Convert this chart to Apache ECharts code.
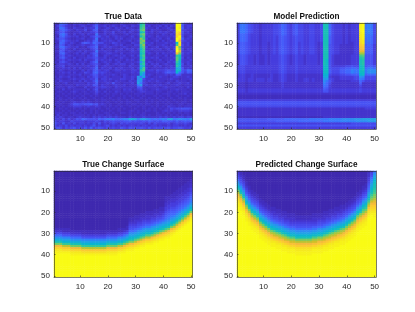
<!DOCTYPE html>
<html><head><meta charset="utf-8">
<style>html,body{margin:0;padding:0;background:#fff}#c{width:415px;height:312px;filter:blur(0.45px)}</style>
<script src="https://cdn.jsdelivr.net/npm/echarts@6/dist/echarts.min.js"></script>
</head><body><div id="c"></div>
<script>
const categories = Array.from({length:50},(_,i)=>String(i+1));
const tickLabels = ['10','20','30','40','50'];
const titles = ['True Data','Model Prediction','True Change Surface','Predicted Change Surface'];
// each char = a colour level 0..z (base 36); rows top to bottom
const trueDataRows = [
'3287632434 3243463233 2332432332 4hj4332324 3324zz7433',
'2476432323 4323573342 3432343243 3ik3423342 4243zy6344',
'3398532433 2434483234 3243324332 3jl4332423 3432zx7343',
'2378643243 3523672343 2334232343 4km3243332 2343yz5433',
'3467432334 2334462243 3523342432 3gi4342343 4324xv6342',
'2389632423 4243393342 3432234233 4km4332324 3243wt5333',
'3278543342 3324575334 2343332342 3hk3432433 3334vz5234',
'3466432233 4233492433 3243423333 3nj4233342 3423zw7343',
'2378543342 2343682343 4324233423 4ln3323424 2343zs5433',
'3287434323 6764875533 3543332243 3mk4342333 4334gx4342',
'2376343233 4334573343 2343423324 4jn3432334 3243kv5342',
'3388543342 3245682343 4332343233 3il4233423 4334xm4333',
'2267432423 3324572423 3233424342 4gk3343342 3424zo5243',
'3376343234 2433493343 3243332343 3hj4323333 2343zr4334',
'2278432342 4324672334 4332423333 3gi3432424 3334sm5343',
'2356343233 3243582243 2343342342 4hk3323332 4243jh4333',
'3267432423 3344563342 3323433233 3ej4343423 3334lh5243',
'2345343334 2433473433 4243324342 3hk3323342 3343lg4334',
'3256432323 3324682343 3234233333 4ci3432333 2434je4343',
'2344343242 4234563234 2343442342 3gj4243423 4333hf5243',
'3345233333 3343472343 3323332433 3dh3324342 3343ie4334',
'2334342424 2334582433 4243433342 4fk4233333 4344ed6343',
'3243233332 4243674344 2344343344 3ik3443544 5655gf6587',
'2334342423 3543784543 3233333343 4gd3333434 6766f96476',
'2233233334 2334663433 3432343233 3fb3432333 4343763333',
'3243342323 3243563343 2333243343 c9e4323343 3234433343',
'2332233433 4334472443 4333443342 be53343333 3343323334',
'3243332324 2433583343 3243332433 cb43433433 2332433323',
'2323422333 3243472334 3633233342 d943232332 3423343342',
'3232333243 3343662433 2343342333 9c34334343 3233432333',
'2333243322 2423353443 3243333332 6632333323 4333233242',
'3224232333 3242462323 2333243423 4533233433 3233433323',
'2332323432 3323353242 3243233332 3443332332 2332323332',
'3223232323 2332342323 2332323223 3323332323 3323233423',
'2322322232 3223232232 2322232322 3232223232 2322322232',
'3232232323 2322322322 3223232232 2322322323 2232232322',
'2232323222 3232232332 2323223223 3223232232 3223222323',
'2323223433 4343232323 2232323322 3223232323 2322323322',
'3232234665 5667563432 3223223233 2323322322 3232233233',
'2323233444 3343343232 3232322322 3232232323 2433232333',
'2232322323 2323323223 2323232223 2232323232 3354556665',
'3223232232 3223232322 3223222332 3223323223 4343344443',
'3332323323 2323232233 2322332322 3232222323 2323232332',
'2423322333 3232323323 3232222323 2332322332 3232323232',
'4343233234 3332434343 4343332433 3343333343 4334344344',
'4435353465 8766658789 9a889aadec 9cdba8989a 9cd9abaa9c',
'5344335444 4344454354 5655566756 5565765657 7665756767',
'6436343534 4343536343 4543545444 4543535444 4534544543',
'5343534344 3434634345 3434343443 4344344343 3434433434',
'5653545645 4647456545 4544654656 5654645556 5645565445'
];
const predictionRows = [
'4998654434 4445568754 6755445544 5hh8544434 3444yz9a95',
'4998654434 4445568754 6755445544 5hh8544434 3444yz9a95',
'4998654434 4445568754 6755445544 5hh8544434 3444yz9a95',
'4998654434 4445568754 6755445544 5hh8544434 3444yz9a95',
'4998654434 4445568754 6755445544 5hh8544434 3444xz9a95',
'4887544434 4445568754 6755445544 5hh8544434 3444xy9995',
'4887544434 4445467654 5655445544 5hh7544434 3444xy9985',
'4887544434 4445467654 5655445544 5hh7544434 3444wy8985',
'4887544434 4445467654 5655445544 5hh7544434 3444wx8985',
'4776544434 4345467654 5645445543 4hh7544434 3344vx8885',
'4776544434 4345467654 5645445543 4hh6544333 3344uv7874',
'4776544434 4345467654 5645445543 4hh6544333 3344tu7774',
'4776544434 4345467654 5645445543 4hh6544333 3344st7774',
'4776544434 4345467654 5645445543 4hh6544333 3344rr7774',
'4776544434 4345467654 5645445543 4hh6544333 3344oo7774',
'3665443433 4344456543 4544344443 4hh6433333 3444kl6664',
'3665443433 4344456543 4544344443 4hh6433333 3444ij6664',
'3665443433 4344456543 4544344443 4hg6433333 3444hi6664',
'3665443433 4344456543 4544344443 4hg6433333 3444hi6664',
'3665443433 4344456543 4544344443 4hg6433333 3444hi6664',
'4554444444 4444456544 4544444444 4gg6444445 5655gh6776',
'4554444444 4444456544 4544444444 4gg6555667 7887gh8998',
'4554444444 4444456544 4544444444 4gg7555778 8a99gh9bbb',
'4554444444 4444456544 4544444444 4gg7555778 8a99gg9bbb',
'3443343333 3343345433 3433333333 3ff5444556 6777fg7888',
'3443343333 3343345433 3433333333 3ee4333444 4455cb5555',
'4443443444 3443345433 3433443433 3cc5433444 4455a95555',
'4443443444 3443345433 3433443433 3b96433333 3444864444',
'3332333333 3333334333 3333333333 3a85333333 3333733333',
'3332333333 3333334333 3333333333 3984333333 3333533333',
'3332333333 3333334333 3333333333 3874333333 3333433333',
'4443444444 4444444444 4444444444 4764444444 4444544444',
'4443444444 4444444444 4444444444 4664444444 4444544444',
'3333333333 3333333333 3333333333 3333333333 3333333333',
'2222222222 2222222222 2222222222 2222222222 2222222222',
'2222222222 2222222222 2222222222 2222222222 2222222222',
'4444444444 4444444444 4444444444 4444444444 4444444444',
'6666666666 6666666666 6666666666 6666666666 6666666666',
'6666666666 6666666666 6666666666 6666666666 6666666666',
'5555555555 5555555555 5555555555 5555555555 5555555555',
'3333333333 3333333333 3333333333 3333333333 3333334444',
'3333333333 3333333333 3333333333 3333333333 3333333333',
'3333333333 3333333333 3333333333 3333333333 3333333333',
'3333333333 3333333333 3333333333 3333333333 3333333333',
'2222222222 2222222222 2222222222 2333333333 3333333333',
'6666666666 6777777888 8888889999 999aaaaabb bbcccddddd',
'6666666666 6666777777 7788888888 8999999aaa aaabbbbccc',
'4444444444 4444444444 4444444444 4444444444 4555555555',
'6666666666 6666666666 6666666666 6666666666 6666666666',
'4444444444 4444444444 4444444444 4444444444 4444444444'
];
// each string = one column, top to bottom; the tail runs on with its last level
const trueSurfaceCols = [
'1111111111 1111111111 111111 12358behmsvxyz',
'1111111111 1111111111 111111 12358behmsvxyz',
'1111111111 1111111111 111111 12358behmsvxyz',
'1111111111 1111111111 111111 12246adfjpuwyz',
'1111111111 1111111111 111111 12246adfjpuwyz',
'1111111111 1111111111 111111 12246adfjpuwyz',
'1111111111 1111111111 1111111 12358behmsvxyz',
'1111111111 1111111111 1111111 12358behmsvxyz',
'1111111111 1111111111 1111111 12358behmsvxyz',
'1111111111 1111111111 1111111 12358behmsvxyz',
'1111111111 1111111111 1111111 12246adfjpuwyz',
'1111111111 1111111111 1111111 12246adfjpuwyz',
'1111111111 1111111111 1111111 12246adfjpuwyz',
'1111111111 1111111111 1111111 12246adfjpuwyz',
'1111111111 1111111111 1111111 12246adfjpuwyz',
'1111111111 1111111111 1111111 12246adfjpuwyz',
'1111111111 1111111111 1111111 12246adfjpuwyz',
'1111111111 1111111111 1111111 12246adfjpuwyz',
'1111111111 1111111111 1111111 12246adfjpuwyz',
'1111111111 1111111111 1111111 12358behmsvxyz',
'1111111111 1111111111 1111111 12358behmsvxyz',
'1111111111 1111111111 1111111 12358behmsvxyz',
'1111111111 1111111111 1111111 12358behmsvxyz',
'1111111111 1111111111 111111 12246adfjpuwyz',
'1111111111 1111111111 111111 12246adfjpuwyz',
'1111111111 1111111111 111111 12358behmsvxyz',
'1111111111 1111111111 11111 12246adfjpuwyz',
'1111111111 1111111111 1 12234568bdfhmsvxyz',
'1111111111 1111111111 1 12234568bdfhmsvxyz',
'1111111111 1111111111 1223345 79cegkpuwyz',
'1111111111 1111111111 12234568bdfhmsvxyz',
'1111111111 111111111 1223345 79cegkpuwyz',
'1111111111 111111111 12234568bdfhmsvxyz',
'1111111111 11111111 1223345 79cegkpuwyz',
'1111111111 11111111 1223345 79cegkpuwyz',
'1111111111 11111111 12234568bdfhmsvxyz',
'1111111111 1111111 1223345 79cegkpuwyz',
'1111111111 1111111 12234568bdfhmsvxyz',
'1111111111 111111 1223345 79cegkpuwyz',
'1111111111 111111 12234568bdfhmsvxyz',
'1111111111 1122233445678acegkpuwyz',
'1111111111 1122334456789bdfhmsvxyz',
'111111111 1122334456789bdfhmsvxyz',
'11111111 1122233445678acegkpuwyz',
'1111111 1122233445678acegkpuwyz',
'111111 1122233445678acegkpuwyz',
'11111 1122233445678acegkpuwyz',
'1111 1122233445678acegkpuwyz',
'111 1122233445678acegkpuwyz',
'11 1122334456789bdfhmsvxyz'
];
const predictedSurfaceCols = [
'34568bdfhmpsuwxyyz',
'2234568bdfhmpsuwxyyz',
'1 12234568bdfhmpsuwxyyz',
'1111 12234568bdfhmpsuwxyyz',
'111111 12234568bdfhmpsuwxyyz',
'11111111 12234568bdfhmpsuwxyyz',
'111111111 12234568bdfhmpsuwxyyz',
'1111111111 12234568bdfhmpsuwxyyz',
'1111111111 11 12234568bdfhmpsuwxyyz',
'1111111111 111 12234568bdfhmpsuwxyyz',
'1111111111 1111 12234568bdfhmpsuwxyyz',
'1111111111 11111 12234568bdfhmpsuwxyyz',
'1111111111 111111 12234568bdfhmpsuwxyyz',
'1111111111 111111 1223345 79cegkoqtvxyyz',
'1111111111 1111111 12234568bdfhmpsuwxyyz',
'1111111111 1111111 1223345 79cegkoqtvxyyz',
'1111111111 11111111 12234568bdfhmpsuwxyyz',
'1111111111 11111111 1223345 79cegkoqtvxyyz',
'1111111111 111111111 12234568bdfhmpsuwxyyz',
'1111111111 111111111 1223345 79cegkoqtvxyyz',
'1111111111 111111111 1223345 79cegkoqtvxyyz',
'1111111111 1111111111 12234568bdfhmpsuwxyyz',
'1111111111 1111111111 12234568bdfhmpsuwxyyz',
'1111111111 1111111111 12234568bdfhmpsuwxyyz',
'1111111111 1111111111 12234568bdfhmpsuwxyyz',
'1111111111 1111111111 12234568bdfhmpsuwxyyz',
'1111111111 1111111111 12234568bdfhmpsuwxyyz',
'1111111111 111111111 1223345 79cegkoqtvxyyz',
'1111111111 111111111 1223345 79cegkoqtvxyyz',
'1111111111 111111111 12234568bdfhmpsuwxyyz',
'1111111111 111111111 12234568bdfhmpsuwxyyz',
'1111111111 11111111 1223345 79cegkoqtvxyyz',
'1111111111 11111111 12234568bdfhmpsuwxyyz',
'1111111111 1111111 1223345 79cegkoqtvxyyz',
'1111111111 1111111 12234568bdfhmpsuwxyyz',
'1111111111 111111 1223345 79cegkoqtvxyyz',
'1111111111 111111 12234568bdfhmpsuwxyyz',
'1111111111 11111 1223345 79cegkoqtvxyyz',
'1111111111 11111 12234568bdfhmpsuwxyyz',
'1111111111 1111 12234568bdfhmpsuwxyyz',
'1111111111 111 12234568bdfhmpsuwxyyz',
'1111111111 11 12234568bdfhmpsuwxyyz',
'1111111111 1 12234568bdfhmpsuwxyyz',
'111111111 12234568bdfhmpsuwxyyz',
'11111111 12234568bdfhmpsuwxyyz',
'111111 12234568bdfhkmpsuwxyyz',
'11111 12234568bdfhjmpsuwxyyz',
'2334456 78acefhknqtvwxyz',
'456 8abdefghjlnqsuvwxyz',
'9bdefghhijkmnprsuvwxyyz'
];
const parula = ['#3e26a8','#4537d5','#484df0','#4563fd','#327cfc','#2b91ef','#20a5e3','#08b5d0','#19bfb6','#37c897','#64cd6f','#9dc943','#d1bf27','#f8ba3d','#fcce2e','#f5e71e','#f9fb15'];
const levelStops = [0,.01,.03,.05,.08,.11,.14,.17,.2];
const panels = [
 {left:54,top:23,width:138.5,height:106},
 {left:237,top:23,width:139,height:106},
 {left:54,top:171,width:138.5,height:106},
 {left:237,top:171,width:139,height:106}
];
const clean = s => { s = s.replace(/ /g,''); return s.padEnd(50,s[s.length-1]).slice(0,50); };
const fromRows = rows => { const d=[]; rows.map(clean).forEach((r,y)=>{ for(let x=0;x<50;x++) d.push([x,y,parseInt(r[x],36)]); }); return d; };
const fromCols = cols => { const d=[]; cols.map(clean).forEach((c,x)=>{ for(let y=0;y<50;y++) d.push([x,y,parseInt(c[y],36)]); }); return d; };
const datasets = [fromRows(trueDataRows),fromRows(predictionRows),fromCols(trueSurfaceCols),fromCols(predictedSurfaceCols)];
const every10 = (i,v) => tickLabels.includes(String(v));
const axisCol = '#262626';
const labelStyle = {fontFamily:'Liberation Sans',fontSize:8,color:axisCol};
const xAxis=[], yAxis=[], grid=[], title=[], series=[];
panels.forEach((p,i)=>{
  grid.push({left:p.left,top:p.top,width:p.width,height:p.height,containLabel:false});
  title.push({text:titles[i],left:p.left+p.width/2,top:p.top-10.5,textAlign:'center',itemGap:0,padding:0,
    textStyle:{fontFamily:'Liberation Sans',fontSize:8.2,fontWeight:'bold',color:'#111'}});
  const line={show:true,onZero:false,lineStyle:{color:axisCol,width:.6}};
  xAxis.push({type:'category',gridIndex:i,data:categories,position:'bottom',z:5,axisLine:line,
    axisTick:{show:true,inside:true,length:1.5,alignWithLabel:true,interval:every10,lineStyle:{color:axisCol,width:.6}},
    axisLabel:Object.assign({interval:every10,margin:6,hideOverlap:false},labelStyle),splitLine:{show:false}});
  yAxis.push({type:'category',gridIndex:i,data:categories,inverse:true,position:'left',z:5,axisLine:line,
    axisTick:{show:true,inside:true,length:1.5,alignWithLabel:true,interval:every10,lineStyle:{color:axisCol,width:.6}},
    axisLabel:Object.assign({interval:every10,margin:4,hideOverlap:false},labelStyle),splitLine:{show:false}});
  xAxis.push({type:'category',gridIndex:i,data:categories,position:'top',z:5,axisLine:line,axisTick:{show:false},axisLabel:{show:false}});
  yAxis.push({type:'category',gridIndex:i,data:categories,inverse:true,position:'right',z:5,axisLine:line,axisTick:{show:false},axisLabel:{show:false}});
  series.push({type:'heatmap',xAxisIndex:i*2,yAxisIndex:i*2,data:datasets[i],progressive:0,animation:false,
    emphasis:{disabled:true},itemStyle:{borderWidth:0}});
});
const lerp=(a,b,t)=>Math.round(a+(b-a)*t);
const hex=h=>[1,3,5].map(k=>parseInt(h.substr(k,2),16));
const colorList=[];
const n=parula.length-1;
for(let l=0;l<=35;l++){
  let t;
  if(l<=8) t=levelStops[l]; else if(l<=17) t=.2+(l-8)/9*.3; else t=.5+(l-17)/18*.5;
  const k=Math.min(n-1,Math.floor(t*n));
  const f=t*n-k;const a=hex(parula[k]),b=hex(parula[k+1]);
  colorList.push(`rgb(${lerp(a[0],b[0],f)},${lerp(a[1],b[1],f)},${lerp(a[2],b[2],f)})`);}
const chart=echarts.init(document.getElementById('c'),null,{renderer:'canvas'});
chart.setOption({animation:false,backgroundColor:'#fff',title,grid,xAxis,yAxis,series,
  visualMap:{show:false,type:'continuous',min:0,max:35,seriesIndex:[0,1,2,3],inRange:{color:colorList},calculable:false}});
</script></body></html>
